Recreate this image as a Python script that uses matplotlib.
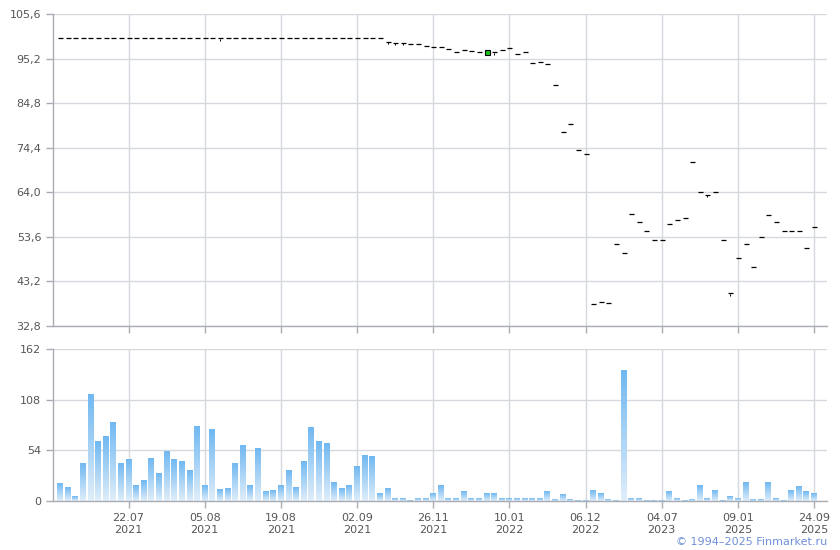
import numpy as np
import matplotlib
matplotlib.use("Agg")
import matplotlib.pyplot as plt
from matplotlib.colors import LinearSegmentedColormap

# ---------------- data ----------------
price = [100.0] * 43 + [
    99.1, 98.9, 98.9, 98.5, 98.5, 98.1, 97.9, 97.9, 97.4, 96.7,
    97.3, 97.0, 96.7, 96.7, 96.7, 97.1, 97.6, 96.2, 96.7, 94.1,
    94.3, 93.9, 89.0, 78.0, 79.9, 73.8, 72.9, 37.9, 38.3, 38.1,
    51.9, 49.8, 58.9, 57.0, 54.9, 52.8, 52.8, 56.5, 57.5, 57.9,
    71.0, 64.0, 63.4, 64.0, 52.8, 40.4, 48.6, 51.9, 46.5, 53.5,
    58.6, 57.0, 54.9, 54.9, 54.9, 50.9, 55.8,
]
volume = [
    19, 14, 5, 40, 113, 63, 69, 84, 40, 44,
    17, 22, 45, 29, 53, 44, 42, 33, 79, 17,
    76, 12, 13, 40, 59, 17, 56, 10, 11, 16,
    32, 14, 42, 78, 63, 61, 20, 13, 16, 37,
    49, 47, 8, 13, 3, 3, 1, 3, 3, 8.5,
    17, 3, 3, 10, 3, 3, 7.5, 7.5, 3, 3,
    3, 3, 3, 3, 10, 2, 6.4, 2, 1, 1,
    11, 7.5, 2, 1, 139, 3, 3, 1, 1, 1,
    10, 3, 1, 2, 17, 3, 11, 1, 5, 3,
    20, 2, 2, 20, 3, 1, 11, 15, 10, 7.5,
]
tick_labels = ["22.07\n2021", "05.08\n2021", "19.08\n2021", "02.09\n2021",
               "26.11\n2021", "10.01\n2022", "06.12\n2022", "04.07\n2023",
               "09.01\n2025", "24.09\n2025"]
tick_index = [9, 19, 29, 39, 49, 59, 69, 79, 89, 99]
price_ticks = [32.8, 43.2, 53.6, 64.0, 74.4, 84.8, 95.2, 105.6]
volume_ticks = [0, 54, 108, 162]
highlight_index = 56
small_tick_index = [21, 43, 44, 45, 57, 85, 88]

# ---------------- styling ----------------
GRID = "#d5d9dd"
SPINE = "#a9adb3"
TXT = "#555555"
plt.rcParams["font.family"] = ["DejaVu Sans"]
plt.rcParams["font.size"] = 8

fig = plt.figure(figsize=(8.4, 5.5), dpi=100)
ax1 = fig.add_axes([53 / 840, 1 - 326 / 550, 774 / 840, 312 / 550])
ax2 = fig.add_axes([53 / 840, 1 - 501 / 550, 774 / 840, 152 / 550])

x = np.arange(len(price))
xlim = (-0.92, 100.7)


def style(ax):
    for s in ["top", "right"]:
        ax.spines[s].set_visible(False)
    for s in ["left", "bottom"]:
        ax.spines[s].set_color(SPINE)
        ax.spines[s].set_linewidth(1)
    ax.grid(True, color=GRID, linewidth=1)
    ax.set_axisbelow(True)
    ax.tick_params(colors=SPINE, labelcolor=TXT, length=5, width=1, labelsize=8)
    ax.set_xticks(tick_index)
    ax.set_xlim(*xlim)


# price panel
style(ax1)
ax1.plot(x, price, linestyle="none", marker="_", color="black",
         markersize=3.6, markeredgewidth=0.9, zorder=3)
sx = [i for i in small_tick_index]
sy = [price[i] - 0.35 for i in small_tick_index]
ax1.plot(sx, sy, linestyle="none", marker="|", color="black",
         markersize=1.5, markeredgewidth=0.7, zorder=3)
ax1.plot([highlight_index], [price[highlight_index]], linestyle="none",
         marker="s", markersize=3.6, markerfacecolor="#19c419",
         markeredgecolor="black", markeredgewidth=0.8, zorder=4)
ax1.set_ylim(price_ticks[0], price_ticks[-1])
ax1.set_yticks(price_ticks)
ax1.set_yticklabels([f"{v:.1f}".replace(".", ",") for v in price_ticks])
ax1.set_xticklabels([""] * len(tick_index))

# volume panel with per-bar vertical gradient
style(ax2)
cmap = LinearSegmentedColormap.from_list("g", ["#e0eefa", "#70b8f1"])
grad = np.linspace(0, 1, 256).reshape(-1, 1)
w = 0.78
for xi, v in zip(x, volume):
    ax2.imshow(grad, extent=[xi - w / 2, xi + w / 2, 0, v], origin="lower",
               cmap=cmap, aspect="auto", interpolation="bilinear", zorder=2)
ax2.set_xlim(*xlim)
ax2.set_ylim(0, 162)
ax2.set_yticks(volume_ticks)
ax2.set_yticklabels([str(v) for v in volume_ticks])
ax2.set_xticklabels(tick_labels, linespacing=1.25)

fig.text(827 / 840, 1 - 542 / 550, "© 1994–2025 Finmarket.ru",
         ha="right", va="center", color="#6f8fd8", fontsize=8)

fig.savefig("out.png", dpi=100)
